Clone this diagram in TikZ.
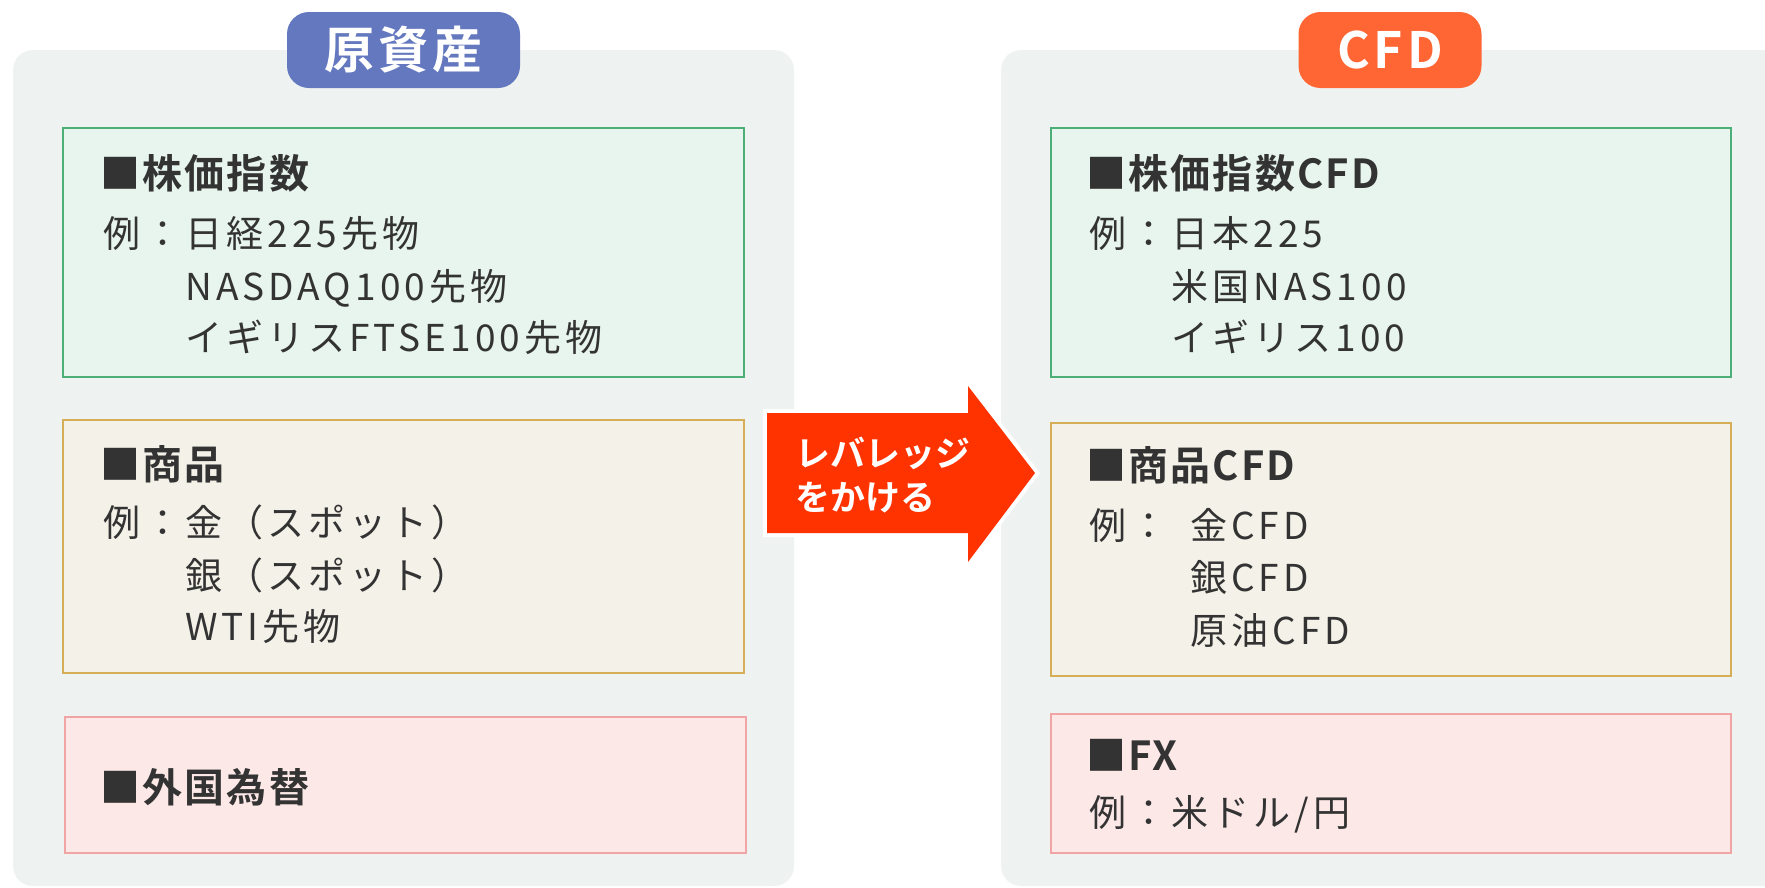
\documentclass[tikz,border=0pt]{standalone}
\usepackage{fontspec}
\setmainfont{Noto Sans CJK JP}
\newfontfamily\bodyfont[LetterSpace=11]{Noto Sans CJK JP}
\newfontfamily\titlefont[LetterSpace=5.5]{Noto Sans CJK JP Bold}
\newfontfamily\boldfont{Noto Sans CJK JP Bold}
\newfontfamily\badgefont[LetterSpace=8]{Noto Sans CJK JP Bold}
\definecolor{panelbg}{HTML}{EEF3F2}
\definecolor{txt}{HTML}{333333}
\definecolor{gfill}{HTML}{E8F5EE}
\definecolor{gline}{HTML}{4CAF78}
\definecolor{tfill}{HTML}{F4F2E8}
\definecolor{tline}{HTML}{D6AE58}
\definecolor{pfill}{HTML}{FDE8E8}
\definecolor{pline}{HTML}{F0A4A4}
\definecolor{badgeblue}{HTML}{6378BF}
\definecolor{badgeorange}{HTML}{FF6633}
\definecolor{arrowred}{HTML}{FF3300}
\tikzset{
  panel/.style={fill=panelbg, rounded corners=20pt, inner sep=0pt, outer sep=0pt, anchor=north west},
  badge/.style={rounded corners=22pt, inner sep=0pt, text=white, font=\badgefont\fontsize{50}{60}\selectfont},
  catbox/.style={anchor=north west, inner sep=0pt, outer sep=0pt, line width=2pt},
  gbox/.style={catbox, fill=gfill, draw=gline},
  tbox/.style={catbox, fill=tfill, draw=tline},
  pbox/.style={catbox, fill=pfill, draw=pline},
  ttl/.style={anchor=base west, inner sep=0pt, text=txt, font=\titlefont\fontsize{40}{48}\selectfont},
  bod/.style={anchor=base west, inner sep=0pt, text=txt, font=\bodyfont\fontsize{37}{44}\selectfont},
  arrtext/.style={anchor=base west, inner sep=0pt, text=white, font=\boldfont\fontsize{35}{42}\selectfont},
}
\begin{document}
\begin{tikzpicture}[x=1pt,y=-1pt]
\useasboundingbox (0,0) rectangle (1765,887);
\fill[white] (0,0) rectangle (1765,887);
% panels
\node[panel, minimum width=781pt, minimum height=836pt] (lp) at (13,50) {};
\node[panel, minimum width=820pt, minimum height=836pt] (rp) at (1001,50) {};
% badges
\node[badge, fill=badgeblue, minimum width=233pt, minimum height=76pt] (lb) at (403.5,50) {原資産};
\node[badge, fill=badgeorange, minimum width=183pt, minimum height=76pt] (rb) at (1390,50) {CFD};
% left boxes
\node[gbox, minimum width=681pt, minimum height=249pt] (lg) at (63,128) {};
\node[tbox, minimum width=681pt, minimum height=253pt] (lt) at (63,420) {};
\node[pbox, minimum width=681pt, minimum height=136pt] (lpk) at (65,717) {};
% right boxes
\node[gbox, minimum width=680pt, minimum height=249pt] (rg) at (1051,128) {};
\node[tbox, minimum width=680pt, minimum height=253pt] (rt) at (1051,423) {};
\node[pbox, minimum width=680pt, minimum height=139pt] (rpk) at (1051,714) {};
% left texts
\node[ttl] (lgt) at (100,188) {■株価指数};
\node[bod] (lg1) at (103,247) {例：日経225先物};
\node[bod] (lg2) at (185,300) {NASDAQ100先物};
\node[bod] (lg3) at (185,351) {イギリスFTSE100先物};
\node[ttl] (ltt) at (100,479) {■商品};
\node[bod] (lt1) at (103,536) {例：金（スポット）};
\node[bod] (lt2) at (185,589) {銀（スポット）};
\node[bod] (lt3) at (185,640) {WTI先物};
\node[ttl] (lpt) at (100,802) {■外国為替};
% right texts
\node[ttl] (rgt) at (1086,188) {■株価指数CFD};
\node[bod] (rg1) at (1089,247) {例：日本225};
\node[bod] (rg2) at (1171,300) {米国NAS100};
\node[bod] (rg3) at (1171,351) {イギリス100};
\node[ttl] (rtt) at (1086,480) {■商品CFD};
\node[bod] (rt0) at (1089,539) {例：};
\node[bod] (rt1) at (1190,539) {金CFD};
\node[bod] (rt2) at (1190,591) {銀CFD};
\node[bod] (rt3) at (1190,644) {原油CFD};
\node[ttl] (rpt) at (1086,770) {■FX};
\node[bod] (rp1) at (1089,826) {例：米ドル/円};
% arrow
\fill[arrowred, preaction={draw=white, line width=8pt, line join=miter}]
  (767,413) -- (968,413) -- (968,386) -- (1035,473) -- (968,562) -- (968,533) -- (767,533) -- cycle;
\node[arrtext] (a1) at (795,466) {レバレッジ};
\node[arrtext] (a2) at (795,510) {をかける};
\end{tikzpicture}
\end{document}
